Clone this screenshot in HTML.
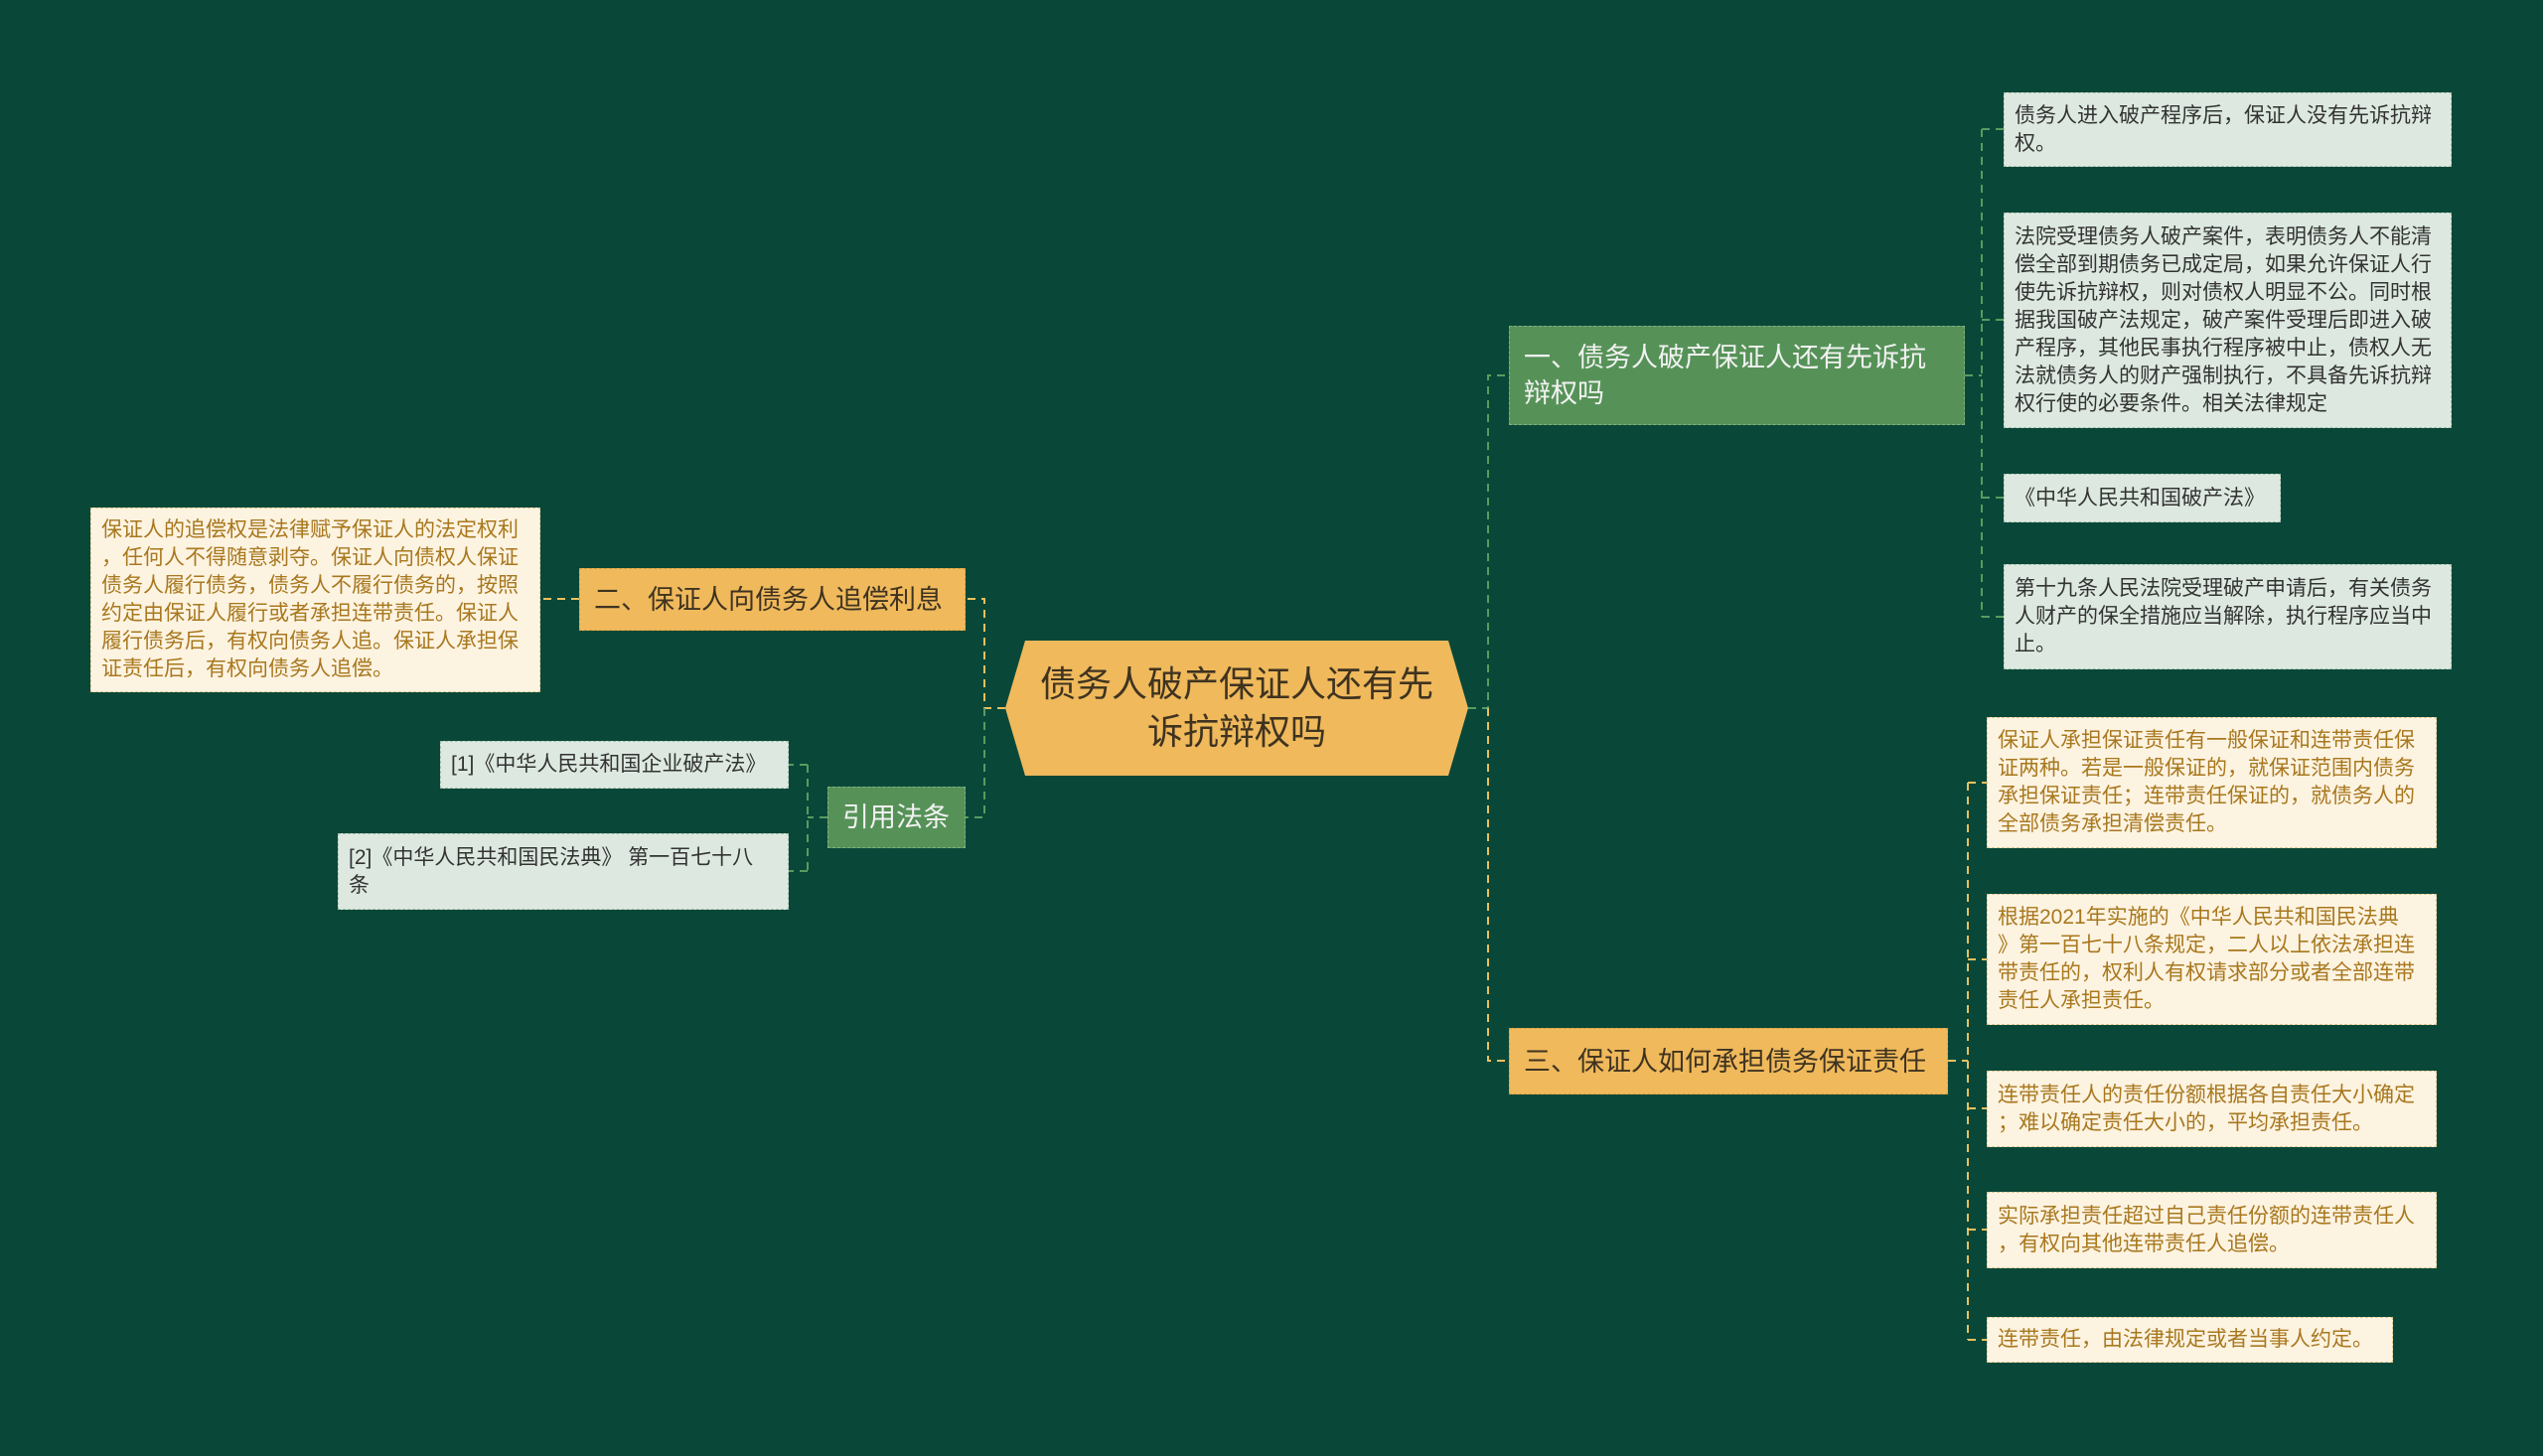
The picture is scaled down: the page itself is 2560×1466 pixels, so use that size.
<!DOCTYPE html>
<html><head><meta charset="utf-8"><style>
body{margin:0;width:2560px;height:1466px;background:#094838;position:relative;overflow:hidden;font-family:"Liberation Sans","Noto Sans CJK SC",sans-serif}
.b{position:absolute;box-sizing:border-box;display:flex;align-items:center;white-space:nowrap}
.lg{background:#dde9e0;color:#333;font-size:21px;line-height:28px;padding:0 10px;border:1px dashed #aac0b0}
.cr{background:#fdf3e1;color:#a8781e;font-size:21px;line-height:28px;padding:0 10px;border:1px dashed #e0c890}
.or{background:#efb95c;color:#3f3320;font-size:27px;line-height:36px;padding:0 14px;border:1px dashed #d9a040}
.gr{background:#569258;color:#f2f2f2;font-size:27px;line-height:36px;padding:0 14px;border:1px dashed #7fb080}
</style></head><body>
<svg width="2560" height="1466" style="position:absolute;left:0;top:0">
<g fill="none" stroke-width="2" stroke-dasharray="8,6">
<path d="M1478 713 H1498 V378 H1519" stroke="#5a9a60"/>
<path d="M1498 713 V1068 H1519" stroke="#e8c060"/>
<path d="M1012 713 H991 V603 H972" stroke="#e8c060"/>
<path d="M991 713 V823 H972" stroke="#5a9a60"/>
<path d="M583 603 H544" stroke="#e8c060"/>
<path d="M1978 378 H1995 M1995 130 V621 M1995 130 H2017 M1995 322 H2017 M1995 501 H2017 M1995 621 H2017" stroke="#5a9a60"/>
<path d="M1961 1068 H1981 M1981 788 V1349 M1981 788 H2000 M1981 966 H2000 M1981 1116 H2000 M1981 1238 H2000 M1981 1349 H2000" stroke="#e8c060"/>
<path d="M833 823 H813 M813 770 V877 M813 770 H794 M813 877 H794" stroke="#5a9a60"/>
</g>
<polygon points="1032,645 1458,645 1478,713 1458,781 1032,781 1012,713" fill="#efb95c"/>
<text x="1245" y="701" text-anchor="middle" font-size="36" fill="#3f3320" font-family="Liberation Sans,Noto Sans CJK SC,sans-serif">债务人破产保证人还有先</text>
<text x="1245" y="749" text-anchor="middle" font-size="36" fill="#3f3320" font-family="Liberation Sans,Noto Sans CJK SC,sans-serif">诉抗辩权吗</text>
</svg>
<div class="b gr" style="left:1519px;top:328px;width:459px;height:100px">一、债务人破产保证人还有先诉抗<br>辩权吗</div>
<div class="b lg" style="left:2017px;top:93px;width:451px;height:75px">债务人进入破产程序后，保证人没有先诉抗辩<br>权。</div>
<div class="b lg" style="left:2017px;top:214px;width:451px;height:217px">法院受理债务人破产案件，表明债务人不能清<br>偿全部到期债务已成定局，如果允许保证人行<br>使先诉抗辩权，则对债权人明显不公。同时根<br>据我国破产法规定，破产案件受理后即进入破<br>产程序，其他民事执行程序被中止，债权人无<br>法就债务人的财产强制执行，不具备先诉抗辩<br>权行使的必要条件。相关法律规定</div>
<div class="b lg" style="left:2017px;top:477px;width:279px;height:49px">《中华人民共和国破产法》</div>
<div class="b lg" style="left:2017px;top:568px;width:451px;height:106px">第十九条人民法院受理破产申请后，有关债务<br>人财产的保全措施应当解除，执行程序应当中<br>止。</div>
<div class="b or" style="left:1519px;top:1035px;width:442px;height:67px">三、保证人如何承担债务保证责任</div>
<div class="b cr" style="left:2000px;top:722px;width:453px;height:132px">保证人承担保证责任有一般保证和连带责任保<br>证两种。若是一般保证的，就保证范围内债务<br>承担保证责任；连带责任保证的，就债务人的<br>全部债务承担清偿责任。</div>
<div class="b cr" style="left:2000px;top:900px;width:453px;height:132px">根据2021年实施的《中华人民共和国民法典<br>》第一百七十八条规定，二人以上依法承担连<br>带责任的，权利人有权请求部分或者全部连带<br>责任人承担责任。</div>
<div class="b cr" style="left:2000px;top:1078px;width:453px;height:77px">连带责任人的责任份额根据各自责任大小确定<br>；难以确定责任大小的，平均承担责任。</div>
<div class="b cr" style="left:2000px;top:1200px;width:453px;height:77px">实际承担责任超过自己责任份额的连带责任人<br>，有权向其他连带责任人追偿。</div>
<div class="b cr" style="left:2000px;top:1326px;width:409px;height:46px">连带责任，由法律规定或者当事人约定。</div>
<div class="b or" style="left:583px;top:572px;width:389px;height:63px">二、保证人向债务人追偿利息</div>
<div class="b cr" style="left:91px;top:511px;width:453px;height:186px">保证人的追偿权是法律赋予保证人的法定权利<br>，任何人不得随意剥夺。保证人向债权人保证<br>债务人履行债务，债务人不履行债务的，按照<br>约定由保证人履行或者承担连带责任。保证人<br>履行债务后，有权向债务人追。保证人承担保<br>证责任后，有权向债务人追偿。</div>
<div class="b gr" style="left:833px;top:792px;width:139px;height:62px">引用法条</div>
<div class="b lg" style="left:443px;top:746px;width:351px;height:48px">[1]《中华人民共和国企业破产法》</div>
<div class="b lg" style="left:340px;top:839px;width:454px;height:77px">[2]《中华人民共和国民法典》 第一百七十八<br>条</div>
</body></html>
